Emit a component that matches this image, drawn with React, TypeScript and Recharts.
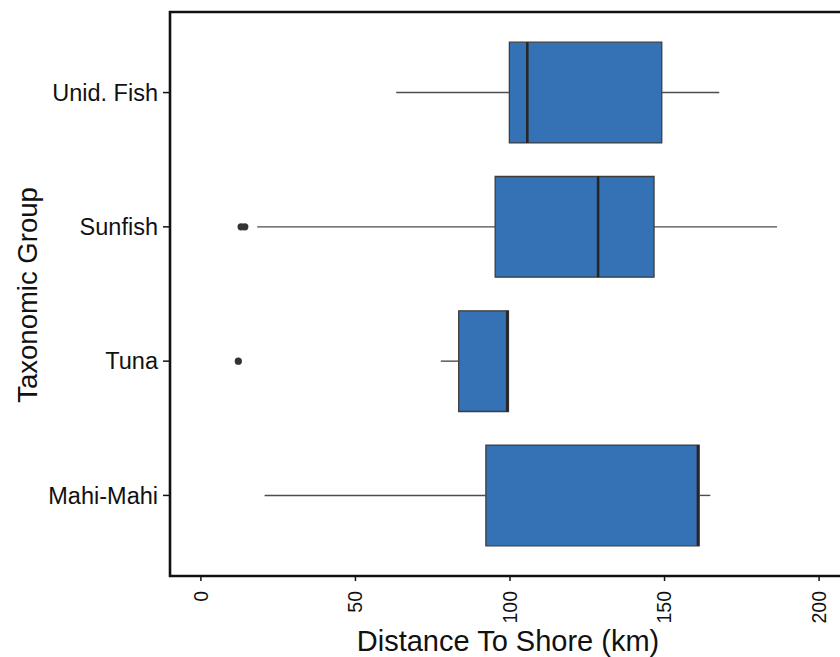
import React from 'react';
import { ComposedChart, XAxis, YAxis, ReferenceArea, ReferenceLine, Scatter, Label } from 'recharts';

// Categories bottom-to-top (positions 1..4 on the y axis)
const categories = ['Mahi-Mahi', 'Tuna', 'Sunfish', 'Unid. Fish'];
const whiskerLow = [20.6, 77.6, 18.2, 63.2];
const q1 = [92.2, 83.4, 95.2, 99.8];
const median = [160.8, 99.1, 128.5, 105.6];
const q3 = [161.2, 99.5, 146.6, 149.1];
const whiskerHigh = [164.8, 99.5, 186.4, 167.7];

const outlierGroup = ['Sunfish', 'Sunfish', 'Tuna'];
const outlierValue = [13.0, 14.2, 12.1];

const xTicks = [0, 50, 100, 150, 200];
const yTicks = [1, 2, 3, 4];

const BOX_HALF = 0.375;
const FILL = '#3572b5';
const FONT = '"Liberation Sans", Arial, sans-serif';

const outliers = outlierGroup.map((g, i) => ({ x: outlierValue[i], y: categories.indexOf(g) + 1 }));

const XTick = (props: any) => {
  const { x, y, payload } = props;
  return (
    <text
      x={x}
      y={y}
      transform={`rotate(-90 ${x} ${y})`}
      textAnchor="end"
      dy="0.35em"
      fontSize={19.5}
      fontFamily={FONT}
      fill="#111"
    >
      {payload.value}
    </text>
  );
};

export default function App() {
  return (
    <div style={{ position: 'absolute', left: 0, top: 0, width: 840, height: 657, overflow: 'hidden', background: '#fff' }}>
      <ComposedChart width={900} height={657} margin={{ top: 12, right: 50, bottom: 0, left: 0 }}>
        <XAxis
          type="number"
          dataKey="x"
          domain={[-10, 210]}
          ticks={xTicks}
          allowDataOverflow
          height={81}
          axisLine={false}
          tickLine={{ stroke: '#111', strokeWidth: 1.5 }}
          tickSize={5}
          tickMargin={10}
          tick={<XTick />}
        >
          <Label
            content={() => (
              <text x={508} y={651} textAnchor="middle" fontSize={29} fontFamily={FONT} fill="#111">
                Distance To Shore (km)
              </text>
            )}
          />
        </XAxis>
        <YAxis
          type="number"
          dataKey="y"
          domain={[0.4, 4.6]}
          ticks={yTicks}
          allowDataOverflow
          width={170}
          axisLine={false}
          tickLine={{ stroke: '#111', strokeWidth: 1.5 }}
          tickSize={7}
          tickMargin={5}
          tickFormatter={(v: number) => categories[v - 1] ?? ''}
          tick={{ fontSize: 23.5, fontFamily: FONT, fill: '#111' }}
        >
          <Label
            content={() => (
              <text
                x={37}
                y={295}
                transform="rotate(-90 37 295)"
                textAnchor="middle"
                fontSize={27.5}
                fontFamily={FONT}
                fill="#111"
              >
                Taxonomic Group
              </text>
            )}
          />
        </YAxis>

        {categories.map((c, i) =>
          whiskerLow[i] < q1[i] ? (
            <ReferenceLine
              key={`wl-${c}`}
              segment={[
                { x: whiskerLow[i], y: i + 1 },
                { x: q1[i], y: i + 1 },
              ]}
              stroke="#4d4d4d"
              strokeWidth={1.4}
            />
          ) : null
        )}
        {categories.map((c, i) =>
          whiskerHigh[i] > q3[i] ? (
            <ReferenceLine
              key={`wh-${c}`}
              segment={[
                { x: q3[i], y: i + 1 },
                { x: whiskerHigh[i], y: i + 1 },
              ]}
              stroke="#4d4d4d"
              strokeWidth={1.4}
            />
          ) : null
        )}
        {categories.map((c, i) => (
          <ReferenceArea
            key={`box-${c}`}
            x1={q1[i]}
            x2={q3[i]}
            y1={i + 1 - BOX_HALF}
            y2={i + 1 + BOX_HALF}
            fill={FILL}
            fillOpacity={1}
            stroke="#3d3d3d"
            strokeWidth={1.3}
          />
        ))}
        {categories.map((c, i) => (
          <ReferenceLine
            key={`med-${c}`}
            segment={[
              { x: median[i], y: i + 1 - BOX_HALF },
              { x: median[i], y: i + 1 + BOX_HALF },
            ]}
            stroke="#262626"
            strokeWidth={2.6}
          />
        ))}

        <Scatter
          data={outliers}
          isAnimationActive={false}
          shape={(p: any) => <circle cx={p.cx} cy={p.cy} r={3.6} fill="#333" />}
        />

        <ReferenceArea
          x1={-10}
          x2={210}
          y1={0.4}
          y2={4.6}
          fill="none"
          stroke="#111"
          strokeWidth={2.6}
        />
      </ComposedChart>
    </div>
  );
}
